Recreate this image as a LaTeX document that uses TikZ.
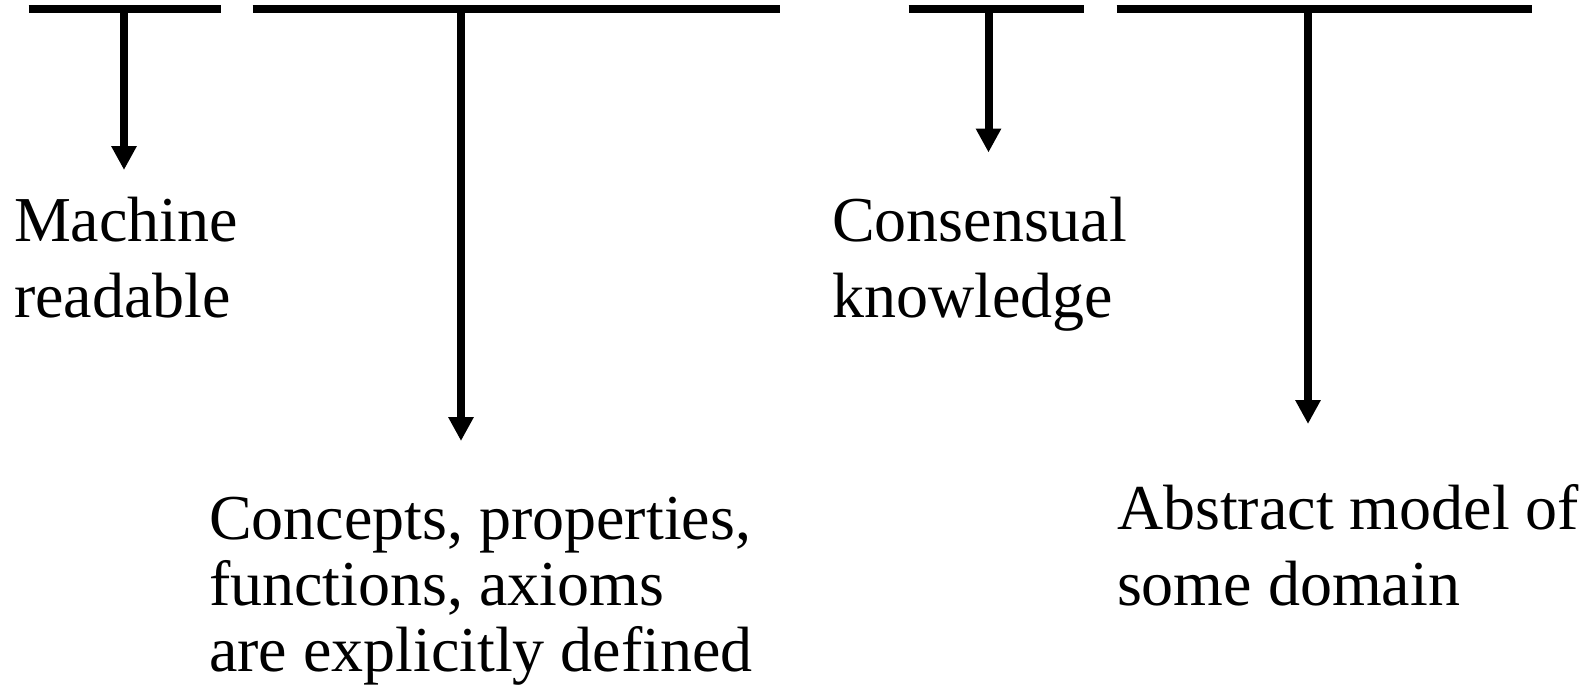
\documentclass[tikz,border=0pt]{standalone}
\usepackage{fontspec}
\setmainfont{Liberation Serif}
\usetikzlibrary{arrows.meta}
\begin{document}
\begin{tikzpicture}[x=1pt,y=-1pt,
  bar/.style={line width=8pt},
  arr/.style={line width=8pt,-{Triangle[length=24pt,width=24pt]}},
  lbl/.style={anchor=base west,inner sep=0pt,outer sep=0pt,align=left,font=\fontsize{64}{76}\selectfont},
  lbltight/.style={lbl,font=\fontsize{64}{66}\selectfont}]
\useasboundingbox (0,0) rectangle (1587,694);
% bars
\coordinate (b1l) at (28.5,9);  \coordinate (b1r) at (220.5,9);  \coordinate (b1m) at (124,9);
\coordinate (b2l) at (252.5,9); \coordinate (b2r) at (780,9);    \coordinate (b2m) at (461,9);
\coordinate (b3l) at (908.5,9); \coordinate (b3r) at (1083.5,9); \coordinate (b3m) at (988.5,9);
\coordinate (b4l) at (1116.5,9);\coordinate (b4r) at (1532,9);   \coordinate (b4m) at (1308,9);
\draw[bar] (b1l) -- (b1r);
\draw[bar] (b2l) -- (b2r);
\draw[bar] (b3l) -- (b3r);
\draw[bar] (b4l) -- (b4r);
% arrow ends
\coordinate (t1) at (124,170);
\coordinate (t2) at (461,441);
\coordinate (t3) at (988.5,152.5);
\coordinate (t4) at (1308,424);
\draw[arr] (b1m) -- (t1);
\draw[arr] (b2m) -- (t2);
\draw[arr] (b3m) -- (t3);
\draw[arr] (b4m) -- (t4);
% labels (base anchor = baseline of the last line)
\node[lbl] (machine) at (14,317) {Machine\\readable};
\node[lbl] (consensual) at (832,317) {Consensual\\knowledge};
\node[lbltight] (concepts) at (209,671) {Concepts, properties,\\functions, axioms\\are explicitly defined};
\node[lbl] (abstract) at (1117,605) {Abstract model of\\some domain};
\end{tikzpicture}
\end{document}
